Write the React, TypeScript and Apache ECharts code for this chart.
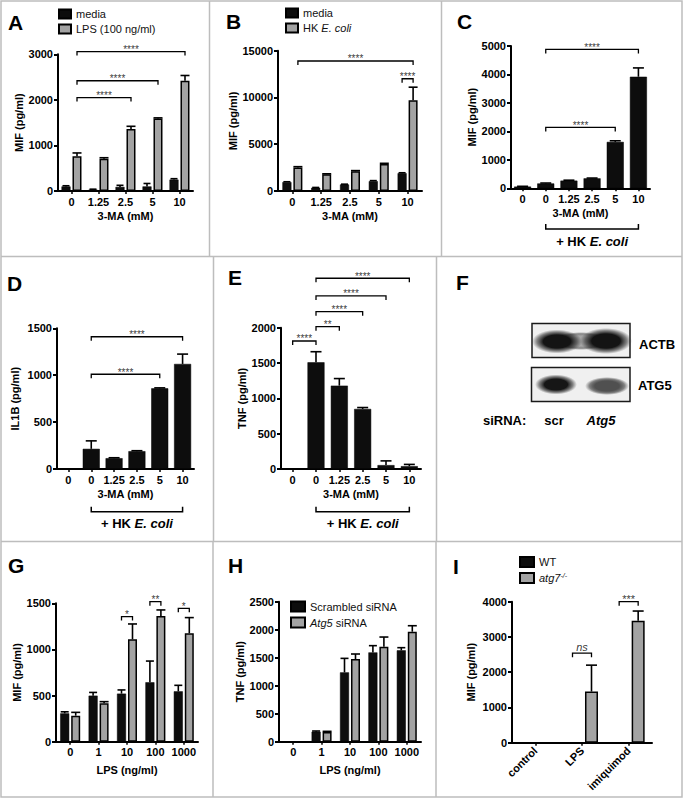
import React, { useEffect, useRef } from 'react';
import * as echarts from 'echarts';

const FONT = "'Liberation Sans', Arial, Helvetica, sans-serif";
const BLACK = '#0d0d0d';
const GRAY = '#a3a3a3';

// ---------------- Data ----------------
const maCats = ['0', '1.25', '2.5', '5', '10'];
const maCatsHK = ['0', '0', '1.25', '2.5', '5', '10'];
const lpsCats = ['0', '1', '10', '100', '1000'];
const iCats = ['control', 'LPS', 'imiquimod'];

// A: MIF, media vs LPS
const aMedia = [100, 30, 90, 100, 250];
const aMediaErr = [15, 10, 35, 65, 20];
const aLps = [760, 710, 1360, 1590, 2420];
const aLpsErr = [75, 20, 60, 15, 115];
// B: MIF, media vs HK E. coli
const bMedia = [950, 350, 700, 1050, 1900];
const bMediaErr = [40, 30, 30, 60, 50];
const bHk = [2500, 1800, 2100, 2900, 9700];
const bHkErr = [100, 40, 80, 60, 1400];
// C: MIF
const cMif = [60, 170, 270, 350, 1630, 3920];
const cMifErr = [10, 15, 15, 10, 40, 310];
// D: IL1B
const dIl1b = [0, 215, 115, 190, 860, 1120];
const dIl1bErr = [0, 85, 5, 5, 5, 105];
// E: TNF
const eTnf = [0, 1510, 1180, 850, 55, 40];
const eTnfErr = [0, 150, 100, 20, 60, 25];
// G: MIF, scrambled vs Atg5 siRNA
const gScr = [307, 499, 521, 644, 546];
const gScrErr = [17, 35, 40, 230, 65];
const gAtg5 = [282, 416, 1110, 1363, 1175];
const gAtg5Err = [36, 18, 166, 65, 170];
// H: TNF, scrambled vs Atg5 siRNA
const hScr = [0, 179, 1238, 1595, 1631];
const hScrErr = [0, 12, 250, 120, 48];
const hAtg5 = [0, 173, 1476, 1696, 1964];
const hAtg5Err = [0, 12, 90, 173, 107];
// I: MIF, WT vs atg7-/-
const iWT = [0, 0, 0];
const iAtg7 = [0, 1450, 3460];
const iAtg7Err = [0, 750, 275];

// significance brackets: category index, bar (-1 first, +1 second, 0 single), level, label
const aSig = [
  { x1: 0, b1: 1, x2: 4, b2: 1, y: 3060, label: '****' },
  { x1: 0, b1: 1, x2: 3, b2: 1, y: 2420, label: '****' },
  { x1: 0, b1: 1, x2: 2, b2: 1, y: 2050, label: '****' },
];
const bSig = [
  { x1: 0, b1: 1, x2: 4, b2: 1, y: 13900, label: '****' },
  { x1: 4, b1: -1, x2: 4, b2: 1, y: 12000, label: '****' },
];
const cSig = [
  { x1: 1, b1: 0, x2: 5, b2: 0, y: 4880, label: '****' },
  { x1: 1, b1: 0, x2: 4, b2: 0, y: 2140, label: '****' },
];
const dSig = [
  { x1: 1, b1: 0, x2: 5, b2: 0, y: 1410, label: '****' },
  { x1: 1, b1: 0, x2: 4, b2: 0, y: 1010, label: '****' },
];
const eSig = [
  { x1: 0, b1: 0, x2: 1, b2: 0, y: 1812, label: '****' },
  { x1: 1, b1: 0, x2: 2, b2: 0, y: 2015, label: '**' },
  { x1: 1, b1: 0, x2: 3, b2: 0, y: 2227, label: '****' },
  { x1: 1, b1: 0, x2: 4, b2: 0, y: 2450, label: '****' },
  { x1: 1, b1: 0, x2: 5, b2: 0, y: 2700, label: '****' },
];
const gSig = [
  { x1: 2, b1: -1, x2: 2, b2: 1, y: 1356, label: '*' },
  { x1: 3, b1: -1, x2: 3, b2: 1, y: 1518, label: '**' },
  { x1: 4, b1: -1, x2: 4, b2: 1, y: 1446, label: '*' },
];
const iSig = [
  { x1: 1, b1: -1, x2: 1, b2: 1, y: 2540, label: 'ns' },
  { x1: 2, b1: -1, x2: 2, b2: 1, y: 4000, label: '***' },
];

// ---------------- helpers ----------------
const boldText = { fontFamily: FONT, fontWeight: 'bold' as const, fontSize: 11, color: '#000' };

function xAxis(gi: number, cats: string[], name: string, nameGap: number, rotate = 0) {
  return {
    type: 'category', gridIndex: gi, data: cats, name, nameLocation: 'middle', nameGap,
    nameTextStyle: boldText,
    axisLine: { show: true, lineStyle: { color: '#000', width: 2 } },
    axisTick: { show: true, alignWithLabel: true, length: 3, lineStyle: { color: '#000', width: 1.5 } },
    axisLabel: { ...boldText, interval: 0, rotate, margin: rotate ? 6 : 5 },
    splitLine: { show: false },
  };
}

function yAxis(gi: number, max: number, interval: number, name: string, nameGap: number) {
  return {
    type: 'value', gridIndex: gi, min: 0, max, interval, name, nameLocation: 'middle', nameGap,
    nameTextStyle: boldText,
    axisLine: { show: true, lineStyle: { color: '#000', width: 2 } },
    axisTick: { show: true, length: 4, lineStyle: { color: '#000', width: 2 } },
    axisLabel: { ...boldText, margin: 5, formatter: (v: number) => String(v) },
    splitLine: { show: false },
  };
}

function bar(name: string, gi: number, data: number[], color: string, width: number, gap: string) {
  return {
    type: 'bar', name, xAxisIndex: gi, yAxisIndex: gi, data, barWidth: width, barGap: gap,
    itemStyle: { color, borderColor: '#000', borderWidth: color === GRAY ? 1.5 : 0.5 },
    silent: true, z: 2,
  };
}

function errs(gi: number, vals: number[], err: number[], offset: number, cap: number) {
  return {
    type: 'custom', xAxisIndex: gi, yAxisIndex: gi, clip: false, silent: true, z: 5,
    itemStyle: { color: '#000' },
    encode: { x: 0, y: 1 },
    data: vals.map((v, i) => [i, v, err[i]]),
    renderItem: (params: any, api: any) => {
      const i = api.value(0), v = api.value(1), e = api.value(2);
      if (!e) return { type: 'group', children: [] };
      const b = api.coord([i, v]);
      const t = api.coord([i, v + e]);
      const x = b[0] + offset;
      const st = { stroke: '#000', lineWidth: 1.6 };
      return {
        type: 'group', children: [
          { type: 'line', shape: { x1: x, y1: b[1], x2: x, y2: t[1] }, style: st },
          { type: 'line', shape: { x1: x - cap, y1: t[1], x2: x + cap, y2: t[1] }, style: st },
        ],
      };
    },
  };
}

function txtStyle(extra: any) {
  const s: any = { fontFamily: FONT, fill: '#000', textFill: '#000', ...extra };
  if (s.align) s.textAlign = s.align;
  if (s.verticalAlign) s.textVerticalAlign = s.verticalAlign;
  return s;
}

function sig(gi: number, defs: any[], off: number, fontSize: number) {
  return {
    type: 'custom', xAxisIndex: gi, yAxisIndex: gi, clip: false, silent: true, z: 6,
    itemStyle: { color: '#333' },
    encode: { x: 0, y: 1 },
    data: defs.map((d) => [d.x1, d.y]),
    renderItem: (params: any, api: any) => {
      const d = defs[params.dataIndex];
      const p1 = api.coord([d.x1, d.y]);
      const p2 = api.coord([d.x2, d.y]);
      const xa = p1[0] + d.b1 * off, xb = p2[0] + d.b2 * off, y = p1[1];
      const star = d.label.indexOf('*') >= 0;
      return {
        type: 'group', children: [
          { type: 'polyline', shape: { points: [[xa, y + 4], [xa, y], [xb, y], [xb, y + 4]] }, style: { stroke: '#000', fill: 'none', lineWidth: 1.3 } },
          {
            type: 'text', x: (xa + xb) / 2, y: star ? y + 3 : y - 1,
            style: txtStyle({ text: d.label, fontSize, fontStyle: star ? 'normal' : 'italic', fill: '#333', textFill: '#333', opacity: 0.97, align: 'center', verticalAlign: 'bottom' }),
          },
        ],
      };
    },
  };
}

function hkGroup(gi: number, from: number, to: number, drop: number) {
  return {
    type: 'custom', xAxisIndex: gi, yAxisIndex: gi, clip: false, silent: true, z: 6,
    itemStyle: { color: '#000' },
    encode: { x: 0, y: 1 },
    data: [[from, 0]],
    renderItem: (params: any, api: any) => {
      const a = api.coord([from, 0]);
      const b = api.coord([to, 0]);
      const y = a[1] + drop;
      return {
        type: 'group', children: [
          { type: 'polyline', shape: { points: [[a[0], y - 5], [a[0], y], [b[0], y], [b[0], y - 5]] }, style: { stroke: '#000', fill: 'none', lineWidth: 1.5 } },
          {
            type: 'text', x: (a[0] + b[0]) / 2, y: y + 12,
            style: txtStyle({
              text: '{b|+ HK }{bi|E. coli}', align: 'center', verticalAlign: 'middle',
              rich: {
                b: { fontFamily: FONT, fontWeight: 'bold', fontSize: 13, fill: '#000', textFill: '#000' },
                bi: { fontFamily: FONT, fontWeight: 'bold', fontStyle: 'italic', fontSize: 13, fill: '#000', textFill: '#000' },
              },
            }),
          },
        ],
      };
    },
  };
}

function legend(left: number, top: number, names: string[], iw: number, ih: number) {
  return {
    orient: 'vertical', left, top, padding: 0, icon: 'rect', itemWidth: iw, itemHeight: ih, itemGap: 4,
    selectedMode: false, data: names,
    textStyle: {
      fontFamily: FONT, fontSize: 11, color: '#111',
      rich: {
        i: { fontFamily: FONT, fontSize: 11, fontStyle: 'italic', color: '#111' },
        s: { fontFamily: FONT, fontSize: 7, fontStyle: 'italic', color: '#111', verticalAlign: 'top', padding: [0, 0, 5, 0] },
      },
    },
    formatter: (n: string) => {
      if (n === 'HK E. coli') return 'HK {i|E. coli}';
      if (n === 'Atg5 siRNA') return '{i|Atg5} siRNA';
      if (n === 'atg7-/-') return '{i|atg7}{s|-/-}';
      return n;
    },
  };
}

function gtext(text: string, x: number, y: number, fontSize: number, extra: any = {}) {
  return { type: 'text', x, y, silent: true, style: txtStyle({ text, fontSize, fontWeight: 'bold', align: 'left', verticalAlign: 'middle', ...extra }) };
}

function band(cx: number, cy: number, rx: number, ry: number, core: string) {
  const fill = new echarts.graphic.RadialGradient(0.5, 0.5, 0.5, [
    { offset: 0, color: core },
    { offset: 0.55, color: core },
    { offset: 0.8, color: 'rgba(40,40,40,0.55)' },
    { offset: 1, color: 'rgba(60,60,60,0)' },
  ]);
  return { type: 'ellipse', silent: true, shape: { cx, cy, rx, ry }, style: { fill } };
}

function buildOption() {
  const W = 9, GAP = '22%', OFF = 5.5;
  const WI = 13, GAPI = '46%', OFFI = 9.5;
  const WS = 17;

  const grids = [
    { left: 58, top: 54.3, width: 135, height: 136.7 },   // A
    { left: 278, top: 50.7, width: 144, height: 140.3 },  // B
    { left: 511, top: 46, width: 139, height: 142.3 },    // C
    { left: 57, top: 328.3, width: 137, height: 140.7 },  // D
    { left: 281, top: 327.7, width: 140, height: 141.3 }, // E
    { left: 56, top: 603.3, width: 142, height: 138.4 },  // G
    { left: 279, top: 601.7, width: 142, height: 140 },   // H
    { left: 512, top: 601.7, width: 140, height: 141 },   // I
  ];

  const xAxes = [
    xAxis(0, maCats, '3-MA (mM)', 19.5),
    xAxis(1, maCats, '3-MA (mM)', 19.5),
    xAxis(2, maCatsHK, '3-MA (mM)', 19),
    xAxis(3, maCatsHK, '3-MA (mM)', 19.5),
    xAxis(4, maCatsHK, '3-MA (mM)', 19.5),
    xAxis(5, lpsCats, 'LPS (ng/ml)', 23),
    xAxis(6, lpsCats, 'LPS (ng/ml)', 22.5),
    xAxis(7, iCats, '', 0, 45),
  ];
  const yAxes = [
    yAxis(0, 3000, 1000, 'MIF (pg/ml)', 33.5),
    yAxis(1, 15000, 5000, 'MIF (pg/ml)', 37),
    yAxis(2, 5000, 1000, 'MIF (pg/ml)', 23.5),
    yAxis(3, 1500, 500, 'IL1B (pg/ml)', 37),
    yAxis(4, 2000, 500, 'TNF (pg/ml)', 32),
    yAxis(5, 1500, 500, 'MIF (pg/ml)', 31.5),
    yAxis(6, 2500, 500, 'TNF (pg/ml)', 31),
    yAxis(7, 4000, 1000, 'MIF (pg/ml)', 36),
  ];

  const series: any[] = [
    // A
    bar('media', 0, aMedia, BLACK, W, GAP), bar('LPS (100 ng/ml)', 0, aLps, GRAY, W, GAP),
    errs(0, aMedia, aMediaErr, -OFF, 3.5), errs(0, aLps, aLpsErr, OFF, 4.5), sig(0, aSig, OFF, 10),
    // B
    bar('media', 1, bMedia, BLACK, W, GAP), bar('HK E. coli', 1, bHk, GRAY, W, GAP),
    errs(1, bMedia, bMediaErr, -OFF, 3.5), errs(1, bHk, bHkErr, OFF, 4.5), sig(1, bSig, OFF, 10),
    // C
    bar('MIF', 2, cMif, BLACK, WS, '0%'), errs(2, cMif, cMifErr, 0, 5.5), sig(2, cSig, 0, 10), hkGroup(2, 1, 5, 40.7),
    // D
    bar('IL1B', 3, dIl1b, BLACK, WS, '0%'), errs(3, dIl1b, dIl1bErr, 0, 5.5), sig(3, dSig, 0, 10), hkGroup(3, 1, 5, 42.7),
    // E
    bar('TNF', 4, eTnf, BLACK, WS, '0%'), errs(4, eTnf, eTnfErr, 0, 5.5), sig(4, eSig, 0, 10), hkGroup(4, 1, 5, 42.7),
    // G
    bar('Scrambled siRNA', 5, gScr, BLACK, W, GAP), bar('Atg5 siRNA', 5, gAtg5, GRAY, W, GAP),
    errs(5, gScr, gScrErr, -OFF, 4), errs(5, gAtg5, gAtg5Err, OFF, 4.5), sig(5, gSig, OFF, 10),
    // H
    bar('Scrambled siRNA', 6, hScr, BLACK, W, GAP), bar('Atg5 siRNA', 6, hAtg5, GRAY, W, GAP),
    errs(6, hScr, hScrErr, -OFF, 4), errs(6, hAtg5, hAtg5Err, OFF, 4.5),
    // I
    bar('WT', 7, iWT, BLACK, WI, GAPI), bar('atg7-/-', 7, iAtg7, GRAY, WI, GAPI),
    errs(7, iAtg7, iAtg7Err, OFFI, 5.5), sig(7, iSig, OFFI, 11),
  ];

  const lineSt = { stroke: '#bdbdbd', lineWidth: 1.5 };
  const ln = (x1: number, y1: number, x2: number, y2: number) => ({ type: 'line', silent: true, shape: { x1, y1, x2, y2 }, style: lineSt });

  const graphic: any[] = [
    { type: 'rect', silent: true, shape: { x: 1, y: 1, width: 681, height: 796 }, style: { fill: 'none', stroke: '#bdbdbd', lineWidth: 1.5 } },
    ln(1, 256.5, 682, 256.5), ln(1, 541.5, 682, 541.5),
    ln(209.5, 1, 209.5, 256.5), ln(441.5, 1, 441.5, 256.5),
    ln(213.5, 256.5, 213.5, 541.5), ln(436.5, 256.5, 436.5, 541.5),
    ln(213, 541.5, 213, 797), ln(436, 541.5, 436, 797),
    gtext('A', 8, 22.5, 21), gtext('B', 226, 21.5, 21), gtext('C', 457, 21.5, 21),
    gtext('D', 7, 283.5, 21), gtext('E', 228, 277.5, 21), gtext('F', 456, 282.5, 21),
    gtext('G', 8, 565.5, 21), gtext('H', 228, 565.5, 21), gtext('I', 453, 566, 21),
    // F western blot
    { type: 'rect', silent: true, shape: { x: 532, y: 323.5, width: 98, height: 34 }, style: { fill: '#f0f0f0', stroke: '#1a1a1a', lineWidth: 1.5 } },
    { type: 'rect', silent: true, shape: { x: 531.5, y: 367.5, width: 98.5, height: 34 }, style: { fill: '#f0f0f0', stroke: '#1a1a1a', lineWidth: 1.5 } },
    band(581, 341, 30, 9, 'rgba(90,90,90,0.5)'),
    band(557, 341.5, 25, 12, '#141414'),
    band(606, 341, 26, 13, '#141414'),
    band(556, 384.5, 21, 10, '#161616'),
    band(607, 386, 22, 9, '#505050'),
    gtext('ACTB', 639, 344, 13),
    gtext('ATG5', 638, 385, 13),
    gtext('siRNA:', 483, 420, 13),
    gtext('scr', 554, 420, 13, { align: 'center' }),
    gtext('Atg5', 601, 420, 13, { align: 'center', fontStyle: 'italic' }),
  ];

  return {
    animation: false,
    backgroundColor: '#ffffff',
    textStyle: { fontFamily: FONT },
    grid: grids,
    xAxis: xAxes,
    yAxis: yAxes,
    legend: [
      legend(58, 8.5, ['media', 'LPS (100 ng/ml)'], 12, 9),
      legend(285, 7.5, ['media', 'HK E. coli'], 12, 9),
      legend(290, 600.5, ['Scrambled siRNA', 'Atg5 siRNA'], 14, 10),
      legend(519, 556, ['WT', 'atg7-/-'], 14, 10),
    ],
    series,
    graphic: { elements: graphic },
  };
}

export default function App() {
  const ref = useRef<HTMLDivElement>(null);
  useEffect(() => {
    document.body.style.margin = '0';
    const chart = echarts.init(ref.current as HTMLDivElement, null, { renderer: 'svg' });
    chart.setOption(buildOption() as any);
    return () => chart.dispose();
  }, []);
  return <div ref={ref} style={{ width: 684, height: 809, background: '#fff' }} />;
}
